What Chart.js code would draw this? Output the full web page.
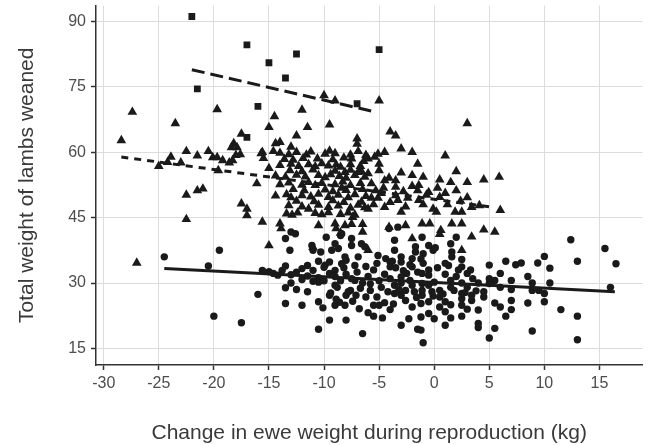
<!DOCTYPE html>
<html>
<head>
<meta charset="utf-8">
<script src="https://cdn.jsdelivr.net/npm/chart.js@4"></script>
<style>
    body { margin: 0; background: #fff; }
    #wrap { width: 648px; height: 445px; }
</style>
</head>
<body>
<div id="wrap"><canvas id="eweChart" width="648" height="445"></canvas></div>
<script>
const xTicks = [-30, -25, -20, -15, -10, -5, 0, 5, 10, 15];
const yTicks = [15, 30, 45, 60, 75, 90];

// [change in ewe weight (kg), total weight weaned]
const triplets = [
    [-22.0, 91.1], [-17.0, 84.6], [-15.0, 80.5], [-12.5, 82.5], [-13.5, 77.0],
    [-21.5, 74.5], [-16.0, 70.5], [-17.0, 63.4], [-7.0, 71.1], [-5.0, 83.5],
];

const twins = [
    [-28.4, 62.7], [-27.4, 69.2], [-27.0, 34.6], [-25.0, 56.8], [-24.2, 57.7], [-23.9, 58.9],
    [-23.5, 66.6], [-23.0, 57.6], [-22.5, 60.2], [-22.5, 50.2], [-22.5, 44.6], [-21.5, 59.2],
    [-21.5, 51.2], [-21.0, 51.6], [-20.5, 60.2], [-20.1, 58.8], [-19.7, 69.8], [-19.7, 58.8],
    [-19.2, 58.1], [-18.6, 57.6], [-18.3, 58.1], [-18.0, 59.3], [-19.6, 55.8],
    [-17.5, 64.2], [-18.2, 62.0], [-17.9, 61.1], [-18.4, 61.1], [-17.6, 59.5],
    [-17.5, 48.2], [-17.0, 47.0], [-17.0, 45.5], [-16.1, 52.8], [-15.6, 44.0], [-15.0, 38.6],
    [-15.7, 59.7], [-15.5, 58.6], [-15.0, 56.3], [-14.4, 62.0],
    [-15.0, 65.7], [-14.5, 68.2], [-12.0, 69.7], [-11.5, 65.7], [-12.5, 63.8], [-9.5, 66.3],
    [-10.0, 73.0], [-9.0, 71.8], [-7.0, 63.1], [-7.0, 61.9], [-14.0, 62.3], [-13.0, 61.2],
    [-15.6, 60.0], [-14.6, 60.2], [-14.0, 59.8], [-13.2, 59.5], [-12.5, 60.0], [-11.6, 59.4],
    [-11.2, 60.1], [-9.9, 59.6], [-9.5, 60.3], [-9.0, 59.7], [-7.6, 59.4], [-6.9, 60.2], [-6.2, 59.3],
    [-14.0, 57.0], [-13.0, 57.3], [-12.3, 56.8], [-11.4, 57.2], [-10.8, 56.7], [-10.2, 57.4],
    [-9.6, 56.9], [-8.9, 57.1], [-8.5, 56.6], [-7.6, 57.2], [-6.7, 56.8],
    [-14.4, 54.6], [-13.5, 54.3], [-12.5, 54.8], [-11.7, 54.4], [-10.5, 54.7], [-9.9, 54.2],
    [-9.4, 54.9], [-8.6, 54.5], [-8.0, 54.1], [-7.2, 54.7], [-6.3, 54.3],
    [-14.0, 52.6], [-13.2, 53.0], [-12.0, 52.5], [-11.4, 53.1], [-10.8, 52.4], [-10.2, 52.9],
    [-9.0, 52.6], [-8.3, 53.2], [-7.6, 52.4], [-6.7, 52.9],
    [-14.4, 50.0], [-13.4, 50.3], [-13.0, 49.6], [-12.0, 50.1], [-11.2, 49.8], [-10.5, 50.4],
    [-9.6, 49.7], [-8.7, 50.2], [-7.8, 49.6], [-7.2, 50.3], [-6.2, 49.9],
    [-13.2, 47.8], [-12.0, 47.5], [-11.4, 47.0], [-10.5, 47.9], [-9.6, 47.4], [-8.7, 47.7],
    [-7.6, 47.2], [-6.9, 47.9], [-6.3, 47.3],
    [-13.4, 45.9], [-12.9, 45.6], [-12.4, 46.1], [-10.8, 46.0], [-10.2, 45.7], [-9.6, 46.2],
    [-8.5, 45.8], [-7.8, 46.1], [-7.2, 45.6],
    [-14.0, 43.6], [-13.9, 42.5], [-10.5, 43.2], [-9.0, 43.6], [-8.9, 42.5], [-8.1, 43.2],
    [-7.4, 45.1], [-6.5, 41.7], [-11.0, 38.2], [-7.5, 43.5], [-6.5, 43.5], [-8.5, 41.5],
    [-7.5, 58.5], [-6.0, 58.5], [-5.4, 58.9], [-8.1, 55.4], [-6.9, 55.4], [-6.0, 55.1],
    [-5.0, 55.8], [-5.7, 52.8], [-4.5, 53.5], [-3.5, 53.5], [-5.7, 49.5], [-5.1, 49.5], [-6.0, 47.0],
    [-5.0, 71.8], [3.0, 66.6], [-4.0, 64.7], [-3.5, 63.8], [-3.0, 60.8], [-2.0, 60.0],
    [-1.5, 57.3], [1.0, 59.2], [2.0, 55.6], [0.5, 53.7], [1.5, 53.1], [3.0, 53.1],
    [4.5, 53.7], [5.9, 54.3], [-1.0, 54.3], [-2.0, 54.7], [-3.0, 55.3], [-4.5, 60.0],
    [-5.1, 59.6], [-5.0, 57.3], [-4.1, 54.1], [2.0, 51.2], [3.0, 49.6], [-1.5, 51.2],
    [-0.5, 50.8], [0.5, 49.7], [-0.7, 50.2], [4.1, 47.8], [6.0, 46.7], [3.4, 47.4],
    [0.2, 46.3], [1.9, 46.3], [2.5, 46.3], [-0.1, 47.0], [-3.0, 46.3], [-4.5, 47.4],
    [-3.5, 50.1], [-2.6, 47.5], [-3.3, 49.0], [-1.4, 49.0],
    [-1.1, 43.6], [-0.4, 43.6], [1.6, 43.6], [2.5, 43.6], [0.6, 42.1], [0.5, 41.2],
    [4.5, 42.2], [5.5, 41.7], [3.4, 40.6], [-2.0, 40.2], [2.5, 37.5], [-2.6, 43.2],
    [-4.1, 42.8], [-6.0, 37.5],
    [-8.0, 51.3], [-6.5, 51.5], [-5.3, 51.2], [-4.6, 51.8], [-3.5, 52.0], [-2.0, 52.2],
    [-1.4, 52.4], [0.3, 51.8],
    [-13.6, 58.4], [-12.8, 58.2], [-11.9, 58.6], [-10.6, 58.5], [-9.2, 58.3], [-8.2, 58.7],
    [-6.4, 57.9], [-13.1, 55.8], [-12.0, 55.6], [-11.0, 56.0], [-9.0, 55.7], [-7.6, 55.9],
    [-6.6, 55.6], [-12.8, 51.5], [-11.8, 51.2], [-9.9, 51.4], [-9.2, 51.0], [-8.4, 51.8],
    [-12.5, 48.8], [-10.9, 48.7], [-9.2, 48.9], [-8.2, 48.5], [-6.6, 48.6], [-5.5, 48.0],
    [-4.0, 48.5], [-4.8, 50.6], [-2.4, 49.5], [-2.8, 51.0], [-1.0, 48.0], [1.2, 48.0],
    [1.0, 50.6], [2.4, 48.8],
];

const singles = [
    [-24.5, 36.0], [-20.5, 33.9], [-19.5, 37.5], [-20.0, 22.4], [-17.5, 20.9], [-16.0, 27.4],
    [-15.6, 32.9], [-14.6, 32.2], [-13.5, 33.9], [-13.1, 37.5],
    [-13.5, 28.9], [-12.5, 28.5], [-13.5, 25.3], [-12.0, 24.9], [-11.5, 28.0], [-10.5, 25.7],
    [-10.1, 24.3], [-10.5, 19.4], [-9.5, 21.5], [-8.0, 21.5], [-6.5, 18.4], [-9.5, 27.2],
    [-9.0, 24.9], [-8.1, 24.9], [-8.6, 25.6], [-11.1, 38.6], [-9.8, 40.5], [-9.0, 39.0],
    [-10.3, 37.1], [-9.0, 32.9], [-8.4, 41.3], [-7.5, 40.2], [-7.5, 38.6], [-6.9, 36.0],
    [-6.3, 38.3], [-8.0, 35.2], [-10.5, 30.2], [-9.0, 29.5], [-7.2, 30.6], [-7.1, 27.2],
    [-6.2, 26.8], [-5.5, 22.4], [-5.5, 24.9], [-5.0, 24.9], [-4.0, 23.9], [-9.4, 27.7],
    [-8.0, 27.2], [-7.6, 28.3], [-6.7, 28.8], [-5.8, 28.3],
    [-13.0, 41.7], [-12.6, 41.3], [-13.5, 40.2], [-11.0, 37.5], [-8.5, 40.9], [-9.3, 37.5],
    [-8.7, 37.9], [-8.1, 36.0], [-8.4, 34.4], [-9.9, 34.1], [-6.6, 39.0],
    [-4.1, 42.5], [-3.3, 42.8], [-1.1, 40.5], [-0.1, 37.5], [-3.6, 39.8], [-3.6, 37.5],
    [-3.0, 34.8], [-1.7, 38.3], [-1.7, 37.1], [-5.1, 36.3], [-4.4, 35.6], [-4.0, 34.8],
    [-0.5, 38.6], [0.1, 38.1],
    [-3.0, 36.0], [-2.0, 35.6], [-2.0, 33.7], [-1.0, 36.7], [-1.0, 34.5], [-2.5, 32.2],
    [-2.2, 30.6], [-3.0, 31.4], [-1.1, 32.2], [-1.1, 29.9], [-1.1, 28.3], [-1.1, 27.2],
    [-1.2, 25.3], [-1.2, 22.2], [-1.2, 19.2], [-1.0, 16.3], [-1.5, 19.4], [-2.0, 24.5],
    [-2.3, 21.8], [-3.0, 27.2], [-3.0, 20.3], [-3.6, 29.5], [-3.6, 27.6], [-4.0, 33.7],
    [-0.5, 31.8], [-0.5, 29.5], [-0.5, 25.7], [-0.5, 23.0], [0.0, 30.2], [0.5, 28.3],
    [0.5, 26.8], [0.5, 24.5], [1.0, 34.5], [1.0, 25.7], [1.0, 23.4], [1.0, 20.3],
    [1.5, 30.6], [1.8, 28.3], [1.6, 37.1], [1.5, 39.0], [1.6, 36.0], [2.0, 40.5],
    [2.5, 35.4], [2.5, 33.7], [2.5, 27.6], [2.5, 26.4], [2.5, 24.9], [2.5, 22.4],
    [3.0, 32.2], [3.4, 27.2], [3.4, 26.0], [4.0, 23.8], [4.0, 20.7], [4.0, 19.8],
    [4.5, 28.0], [4.5, 26.8], [5.0, 34.1], [5.5, 30.6], [5.0, 29.9], [5.5, 25.4],
    [6.0, 24.5], [5.5, 19.6], [5.0, 17.4], [6.5, 35.0], [7.0, 30.6], [6.0, 32.2],
    [7.0, 26.0], [7.0, 23.9], [6.5, 22.4], [7.4, 34.2], [7.9, 34.6], [8.5, 31.5],
    [8.9, 30.0], [8.9, 28.3], [9.5, 28.3], [10.0, 27.6], [10.0, 25.7], [10.5, 30.0],
    [8.5, 25.4], [8.9, 19.0], [9.4, 34.6], [10.0, 36.1], [10.5, 33.4], [11.5, 23.9],
    [12.4, 39.9], [13.0, 35.0], [13.0, 22.4], [13.0, 17.0], [15.5, 37.9], [16.5, 34.4], [16.0, 29.0],
    [-15.0, 32.6], [-14.2, 31.8], [-13.8, 32.9], [-13.0, 31.9], [-12.5, 32.5], [-12.0, 33.3],
    [-11.5, 31.6], [-11.0, 32.9], [-10.5, 31.2], [-10.0, 33.6], [-10.0, 30.5], [-9.5, 32.2],
    [-11.0, 30.4], [-12.0, 30.8], [-13.0, 30.0], [-10.5, 35.0], [-11.5, 34.0], [-9.5, 34.8],
    [-9.0, 31.5], [-8.5, 30.5], [-8.0, 32.0], [-7.5, 31.0], [-7.0, 32.5], [-6.5, 30.0],
    [-6.0, 31.5], [-5.5, 33.0], [-5.0, 30.5], [-4.5, 32.0], [-4.0, 31.0], [-3.5, 33.5],
    [-3.0, 30.0], [-2.0, 29.5], [-1.5, 32.5], [-0.5, 33.0], [1.0, 32.0], [1.5, 29.0],
    [2.0, 31.5], [2.5, 30.0], [3.0, 29.0], [3.5, 31.0], [4.0, 30.0], [5.0, 31.0],
    [6.0, 29.0], [7.0, 28.5],
    [-8.8, 29.0], [-8.2, 33.5], [-7.8, 28.0], [-7.2, 34.0], [-6.2, 33.8], [-5.8, 29.8],
    [-5.2, 34.5], [-4.8, 29.0], [-4.2, 28.0], [-3.8, 35.0], [-3.2, 28.5], [-2.8, 32.8],
    [-2.2, 34.2], [-1.8, 28.0], [-1.2, 35.5], [-0.2, 28.0], [0.3, 33.5], [0.8, 27.5],
    [1.3, 34.0], [2.2, 33.0], [2.8, 27.8], [3.3, 33.0], [3.8, 28.2],
    [-8.9, 26.3], [-7.4, 25.8], [-6.8, 24.1], [-5.2, 26.8], [-4.5, 25.5], [-3.7, 25.2],
    [-2.6, 26.0], [-1.6, 26.7], [-0.1, 27.0], [-6.0, 23.2], [-4.7, 22.0], [0.0, 21.8],
    [1.5, 22.0], [3.0, 24.0], [1.5, 25.0], [-2.6, 28.3],
];

// fitted lines, end points
const tripletFit = [[-22.0, 78.9], [-5.3, 69.2]];
const twinFit = [[-28.4, 58.9], [5.5, 47.3]];
const singleFit = [[-24.5, 33.3], [16.4, 28.0]];

const INK = "#1a1a1a";
const toPoints = (pairs) => pairs.map(([x, y]) => ({ x, y }));

function markers(data, pointStyle, radius) {
    return {
        data: toPoints(data),
        pointStyle: pointStyle,
        pointRadius: radius,
        pointBackgroundColor: INK,
        pointBorderWidth: 0,
        showLine: false,
        order: 2,
    };
}

function fitLine(data, dash) {
    return {
        data: toPoints(data),
        showLine: true,
        borderColor: INK,
        borderWidth: 3,
        borderDash: dash,
        pointRadius: 0,
        fill: false,
        order: 1,
    };
}

const axisTitles = {
    id: "axisTitles",
    afterDraw(chart) {
        const { ctx, chartArea } = chart;
        ctx.save();
        ctx.fillStyle = "#3a3a3a";
        ctx.font = '21px "Liberation Sans", Arial, sans-serif';
        ctx.textAlign = "center";
        ctx.textBaseline = "alphabetic";
        ctx.fillText("Change in ewe weight during reproduction (kg)", (chartArea.left + chartArea.right) / 2, 439);
        ctx.translate(33, (chartArea.top + chartArea.bottom) / 2);
        ctx.rotate(-Math.PI / 2);
        ctx.fillText("Total weight of lambs weaned", 0, 0);
        ctx.restore();
    },
};

const tickFont = { family: '"Liberation Sans", Arial, sans-serif', size: 16 };

new Chart(document.getElementById("eweChart"), {
    type: "scatter",
    data: {
        datasets: [
            fitLine(tripletFit, [13, 6]),
            fitLine(twinFit, [7, 6]),
            fitLine(singleFit, []),
            markers(triplets, "rect", 4.8),
            markers(twins, "triangle", 5.6),
            markers(singles, "circle", 3.7),
        ],
    },
    options: {
        responsive: false,
        animation: false,
        devicePixelRatio: 1,
        layout: { padding: { top: 5, right: 1, left: 0, bottom: 0 } },
        plugins: { legend: { display: false }, tooltip: { enabled: false } },
        scales: {
            x: {
                type: "linear",
                min: -30.7,
                max: 18.9,
                afterBuildTicks: (scale) => { scale.ticks = xTicks.map((v) => ({ value: v })); },
                afterFit: (scale) => {
                    scale.height = 80;
                    scale.paddingLeft = 0;
                    scale.paddingRight = 0;
                },
                ticks: { color: "#4d4d4d", font: tickFont, padding: 4, maxRotation: 0, autoSkip: false },
                grid: { color: "#dcdcdc", lineWidth: 1, tickLength: 5, tickColor: "#333", tickWidth: 1.5 },
                border: { color: "#333", width: 1.5 },
            },
            y: {
                type: "linear",
                min: 11.2,
                max: 93.6,
                afterBuildTicks: (scale) => { scale.ticks = yTicks.map((v) => ({ value: v })); },
                afterFit: (scale) => {
                    scale.width = 96;
                    scale.paddingTop = 0;
                    scale.paddingBottom = 0;
                },
                ticks: { color: "#4d4d4d", font: tickFont, padding: 5, autoSkip: false },
                grid: { color: "#dcdcdc", lineWidth: 1, tickLength: 5, tickColor: "#333", tickWidth: 1.5 },
                border: { color: "#333", width: 1.5 },
            },
        },
    },
    plugins: [axisTitles],
});
</script>
</body>
</html>
